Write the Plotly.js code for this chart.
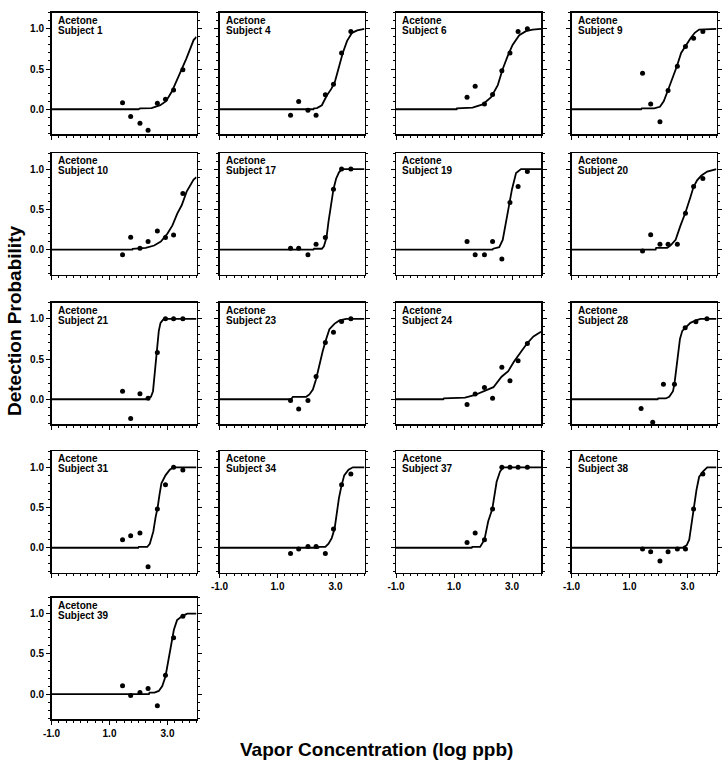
<!DOCTYPE html>
<html><head><meta charset="utf-8">
<script src="https://cdn.plot.ly/plotly-3.0.1.min.js"></script>
<style>html,body{margin:0;padding:0;background:#fff}#chart{width:724px;height:769px}</style>
</head><body><div id="chart"></div>
<script>
// ---- data ----
const subjects = [1, 4, 6, 9, 10, 17, 19, 20, 21, 23, 24, 28, 31, 34, 37, 38, 39];
const stimulus = "Acetone";
const xTickVals = [-1, 1, 3];
const xTickText = ["-1.0", "1.0", "3.0"];
const yTickVals = [0, 0.5, 1];
const yTickText = ["0.0", "0.5", "1.0"];

// concentration levels (log ppb)
const conc = [1.45, 1.73, 2.05, 2.33, 2.65, 2.93, 3.21, 3.53];
const conc28 = [1.40, 1.80, 2.17, 2.55, 2.92, 3.29, 3.67];

// observed detection probabilities
const prob1  = [0.08, -0.09, -0.175, -0.26, 0.075, 0.125, 0.24, 0.49];
const prob4  = [-0.075, 0.096, -0.012, -0.075, 0.18, 0.31, 0.70, 0.967];
const prob6  = [0.15, 0.286, 0.066, 0.183, 0.48, 0.70, 0.967, 1.0];
const prob9  = [0.448, 0.066, -0.154, 0.232, 0.535, 0.78, 0.884, 0.967];
const prob10 = [-0.066, 0.153, 0.017, 0.099, 0.231, 0.149, 0.182, 0.698];
const prob17 = [0.017, 0.017, -0.066, 0.066, 0.149, 0.748, 1.0, 1.0];
const prob19 = [0.10, -0.066, -0.066, 0.10, -0.116, 0.585, 0.784, 0.971];
const prob20 = [-0.017, 0.183, 0.066, 0.066, 0.066, 0.452, 0.784, 0.884];
const prob21 = [0.10, -0.238, 0.067, 0.012, 0.58, 1.0, 1.0, 1.0];
const prob23 = [-0.017, -0.121, -0.017, 0.283, 0.704, 0.833, 0.967, 1.0];
const prob24 = [-0.066, 0.066, 0.145, 0.012, 0.397, 0.231, 0.479, 0.694];
const prob28 = [-0.116, -0.285, 0.186, 0.186, 0.888, 0.963, 1.0];
const prob31 = [0.10, 0.149, 0.183, -0.237, 0.481, 0.784, 1.0, 0.967];
const prob34 = [-0.07, -0.017, 0.017, 0.017, -0.07, 0.232, 0.784, 0.917];
const prob37 = [0.066, 0.182, 0.099, 0.483, 1.0, 1.0, 1.0, 1.0];
const prob38 = [-0.017, -0.05, -0.166, -0.05, -0.017, -0.017, 0.483, 0.917];
const prob39 = [0.104, -0.017, 0.021, 0.07, -0.145, 0.236, 0.70, 0.967];

// fitted psychometric curves
const fitX1  = [-1, 2.0, 2.05, 2.45, 2.75, 2.95, 3.15, 3.35, 3.5, 3.65, 3.9, 4.0];
const fitY1  = [0, 0, 0.01, 0.015, 0.05, 0.1, 0.22, 0.38, 0.5, 0.63, 0.86, 0.9];
const fitX4  = [-1, 2.24, 2.26, 2.36, 2.53, 2.70, 2.85, 2.97, 3.10, 3.25, 3.40, 3.57, 3.75, 4.0];
const fitY4  = [0, 0, 0.012, 0.015, 0.05, 0.17, 0.25, 0.33, 0.5, 0.7, 0.85, 0.95, 0.98, 1.0];
const fitX6  = [-1, 1.09, 1.1, 1.64, 1.99, 2.28, 2.51, 2.68, 2.85, 3.02, 3.25, 3.48, 3.71, 4.0];
const fitY6  = [0, 0, 0.01, 0.02, 0.06, 0.15, 0.3, 0.5, 0.66, 0.8, 0.92, 0.97, 0.99, 1.0];
const fitX9  = [-1, 1.4, 1.42, 1.85, 2.05, 2.18, 2.32, 2.48, 2.64, 2.78, 2.92, 3.10, 3.25, 3.40, 4.0];
const fitY9  = [0, 0, 0.01, 0.01, 0.03, 0.1, 0.23, 0.38, 0.54, 0.7, 0.78, 0.88, 0.95, 0.99, 1.0];
const fitX10 = [-1, 1.79, 1.8, 2.25, 2.54, 2.77, 3.0, 3.17, 3.34, 3.49, 3.66, 3.9, 4.0];
const fitY10 = [0, 0, 0.01, 0.02, 0.05, 0.1, 0.2, 0.3, 0.45, 0.55, 0.72, 0.87, 0.9];
const fitX17 = [-1, 2.24, 2.26, 2.53, 2.60, 2.69, 2.76, 2.84, 2.93, 3.02, 3.12, 3.22, 4.0];
const fitY17 = [0, 0, 0.01, 0.01, 0.04, 0.15, 0.35, 0.55, 0.75, 0.88, 0.96, 1.0, 1.0];
const fitX19 = [-1, 2.33, 2.35, 2.56, 2.68, 2.79, 2.91, 3.0, 3.14, 3.31, 4.0];
const fitY19 = [0, 0, 0.01, 0.03, 0.12, 0.35, 0.55, 0.75, 0.95, 1.0, 1.0];
const fitX20 = [-1, 1.9, 1.92, 2.3, 2.41, 2.59, 2.76, 2.93, 3.10, 3.21, 3.33, 3.48, 3.68, 3.97, 4.0];
const fitY20 = [0, 0, 0.02, 0.02, 0.05, 0.12, 0.3, 0.46, 0.65, 0.78, 0.86, 0.92, 0.97, 1.0, 1.0];
const fitX21 = [-1, 2.25, 2.28, 2.43, 2.50, 2.55, 2.60, 2.65, 2.70, 2.76, 2.85, 2.95, 4.0];
const fitY21 = [0, 0, 0.01, 0.03, 0.1, 0.3, 0.5, 0.62, 0.85, 0.95, 0.99, 1.0, 1.0];
const fitX23 = [-1, 1.47, 1.53, 1.99, 2.10, 2.22, 2.33, 2.45, 2.56, 2.68, 2.79, 2.97, 3.14, 3.37, 4.0];
const fitY23 = [0, 0, 0.03, 0.03, 0.06, 0.12, 0.25, 0.45, 0.6, 0.75, 0.87, 0.94, 0.98, 1.0, 1.0];
const fitX24 = [-1, 0.63, 0.65, 1.38, 1.70, 2.02, 2.36, 2.64, 2.87, 3.07, 3.28, 3.51, 3.74, 4.0];
const fitY24 = [0, 0, 0.01, 0.02, 0.05, 0.1, 0.15, 0.28, 0.35, 0.47, 0.58, 0.69, 0.78, 0.84];
const fitX28 = [-1, 1.97, 1.99, 2.25, 2.37, 2.50, 2.55, 2.62, 2.68, 2.74, 2.82, 2.92, 3.10, 3.29, 3.45, 4.0];
const fitY28 = [0, 0, 0.01, 0.01, 0.03, 0.1, 0.19, 0.4, 0.6, 0.75, 0.85, 0.89, 0.95, 0.98, 1.0, 1.0];
const fitX31 = [-1, 1.99, 2.01, 2.3, 2.39, 2.51, 2.59, 2.66, 2.72, 2.79, 2.93, 3.08, 3.20, 4.0];
const fitY31 = [0, 0, 0.01, 0.01, 0.05, 0.2, 0.38, 0.5, 0.65, 0.8, 0.9, 0.97, 1.0, 1.0];
const fitX34 = [-1, 2.41, 2.43, 2.65, 2.76, 2.87, 2.97, 3.05, 3.12, 3.20, 3.30, 3.45, 3.60, 4.0];
const fitY34 = [0, 0, 0.01, 0.01, 0.05, 0.12, 0.24, 0.45, 0.62, 0.76, 0.9, 0.97, 1.0, 1.0];
const fitX37 = [-1, 1.61, 1.63, 1.90, 2.05, 2.18, 2.32, 2.38, 2.47, 2.59, 2.70, 4.0];
const fitY37 = [0, 0, 0.01, 0.01, 0.1, 0.33, 0.48, 0.62, 0.82, 0.95, 1.0, 1.0];
const fitX38 = [-1, 2.85, 2.87, 2.97, 3.06, 3.14, 3.22, 3.31, 3.40, 3.54, 3.68, 4.0];
const fitY38 = [0, 0, 0.01, 0.03, 0.1, 0.3, 0.5, 0.72, 0.88, 0.95, 1.0, 1.0];
const fitX39 = [-1, 2.36, 2.38, 2.55, 2.70, 2.82, 2.93, 3.02, 3.11, 3.22, 3.33, 3.51, 3.68, 4.0];
const fitY39 = [0, 0, 0.02, 0.02, 0.04, 0.1, 0.22, 0.4, 0.6, 0.8, 0.92, 0.97, 1.0, 1.0];

// ---- assemble panels ----
const panelData = [
  [conc, prob1, fitX1, fitY1], [conc, prob4, fitX4, fitY4], [conc, prob6, fitX6, fitY6], [conc, prob9, fitX9, fitY9],
  [conc, prob10, fitX10, fitY10], [conc, prob17, fitX17, fitY17], [conc, prob19, fitX19, fitY19], [conc, prob20, fitX20, fitY20],
  [conc, prob21, fitX21, fitY21], [conc, prob23, fitX23, fitY23], [conc, prob24, fitX24, fitY24], [conc28, prob28, fitX28, fitY28],
  [conc, prob31, fitX31, fitY31], [conc, prob34, fitX34, fitY34], [conc, prob37, fitX37, fitY37], [conc, prob38, fitX38, fitY38],
  [conc, prob39, fitX39, fitY39]
];

const W = 724, H = 769;
const colLeft = [51.5, 219.5, 396, 571.5];
const rowTop = [12.7, 153, 302.7, 451.2, 597.6];
const pw = 145, ph = 121.5;
const font = "'Liberation Sans', Arial, Helvetica, sans-serif";

const traces = [];
const layout = {
  width: W, height: H,
  margin: {l: 0, r: 0, t: 0, b: 0},
  paper_bgcolor: '#fff', plot_bgcolor: '#fff',
  showlegend: false,
  font: {family: font, color: '#000'},
  annotations: []
};

subjects.forEach((s, i) => {
  const row = Math.floor(i / 4), col = i % 4;
  const n = i + 1;
  const xa = 'x' + (n === 1 ? '' : n), ya = 'y' + (n === 1 ? '' : n);
  const xk = 'xaxis' + (n === 1 ? '' : n), yk = 'yaxis' + (n === 1 ? '' : n);
  const [dx, dy, fx, fy] = panelData[i];
  traces.push({x: fx, y: fy, xaxis: xa, yaxis: ya, type: 'scatter', mode: 'lines',
    line: {color: '#000', width: 1.8}, hoverinfo: 'skip'});
  traces.push({x: dx, y: dy, xaxis: xa, yaxis: ya, type: 'scatter', mode: 'markers',
    marker: {color: '#000', size: 5}, cliponaxis: false});
  const L = colLeft[col], T = rowTop[row];
  const bottomOfCol = (i + 4 >= subjects.length);
  layout[xk] = {
    domain: [L / W, (L + pw) / W], range: [-1, 4], anchor: ya,
    showline: true, linecolor: '#000', linewidth: 1.5, mirror: true,
    showgrid: false, zeroline: false,
    ticks: 'outside', ticklen: 4, tickwidth: 1, tickcolor: '#000',
    tickmode: 'array', tickvals: xTickVals, ticktext: xTickText,
    showticklabels: bottomOfCol,
    tickfont: {family: font, size: 10, color: '#000', weight: 'bold'},
    minor: {ticks: 'outside', ticklen: 2, tickwidth: 1, tickcolor: '#000', tick0: -1, dtick: 0.25, showgrid: false},
    fixedrange: true
  };
  layout[yk] = {
    domain: [1 - (T + ph) / H, 1 - T / H], range: [-0.31, 1.2], anchor: xa,
    showline: true, linecolor: '#000', linewidth: 1.5, mirror: 'ticks',
    showgrid: false, zeroline: false,
    ticks: 'outside', ticklen: 4, tickwidth: 1, tickcolor: '#000',
    tickmode: 'array', tickvals: yTickVals, ticktext: yTickText,
    showticklabels: col === 0,
    tickfont: {family: font, size: 10, color: '#000', weight: 'bold'},
    minor: {ticks: 'outside', ticklen: 2, tickwidth: 1, tickcolor: '#000', tick0: 0, dtick: 0.1, showgrid: false},
    fixedrange: true
  };
  layout.annotations.push({xref: xa + ' domain', yref: ya + ' domain', x: 0, y: 1,
    xanchor: 'left', yanchor: 'top', xshift: 4, yshift: 0, showarrow: false,
    text: stimulus, font: {family: font, size: 10, color: '#000', weight: 'bold'}});
  layout.annotations.push({xref: xa + ' domain', yref: ya + ' domain', x: 0, y: 1,
    xanchor: 'left', yanchor: 'top', xshift: 4, yshift: -10, showarrow: false,
    text: 'Subject ' + s, font: {family: font, size: 10, color: '#000', weight: 'bold'}});
});

layout.annotations.push({xref: 'paper', yref: 'paper', x: 14 / W, y: 1 - 321 / H,
  xanchor: 'center', yanchor: 'middle', textangle: -90, showarrow: false,
  text: 'Detection Probability', font: {family: font, size: 19, color: '#000', weight: 'bold'}});
layout.annotations.push({xref: 'paper', yref: 'paper', x: 376 / W, y: 1 - 749 / H,
  xanchor: 'center', yanchor: 'middle', showarrow: false,
  text: 'Vapor Concentration (log ppb)', font: {family: font, size: 19, color: '#000', weight: 'bold'}});

Plotly.newPlot('chart', traces, layout, {staticPlot: true, displayModeBar: false});
</script>
</body></html>
